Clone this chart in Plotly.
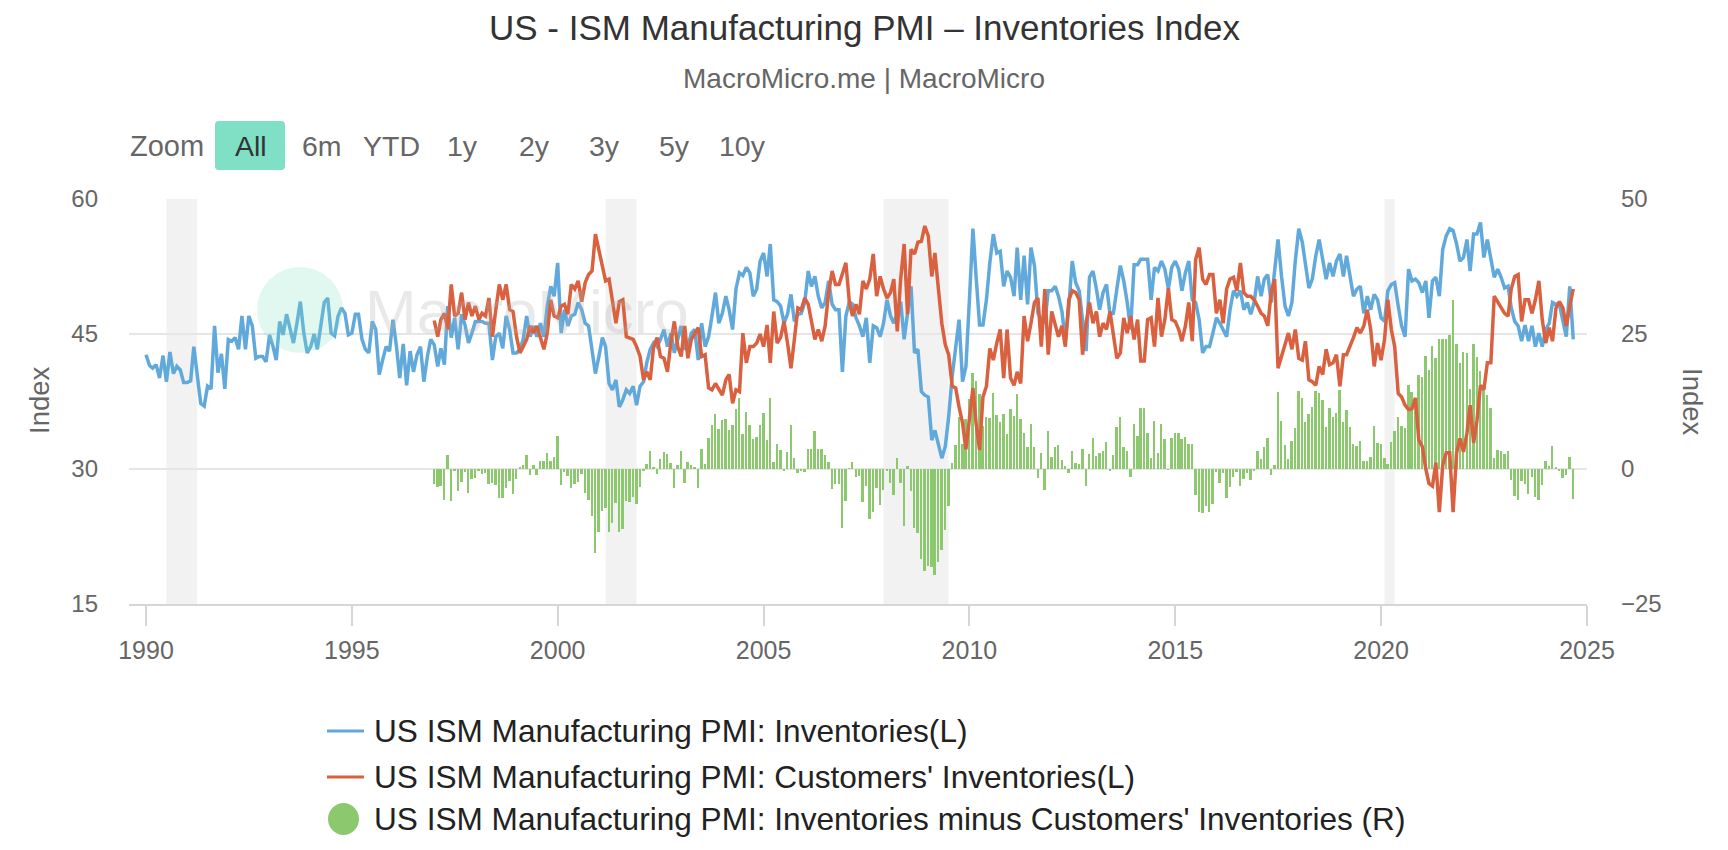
import pandas as pd
import plotly.graph_objects as go

# ---------------- text ----------------
TITLE = "US - ISM Manufacturing PMI – Inventories Index"
SUBTITLE = "MacroMicro.me | MacroMicro"
NAME_INV = "US ISM Manufacturing PMI: Inventories(L)"
NAME_CUST = "US ISM Manufacturing PMI: Customers' Inventories(L)"
NAME_DIFF = "US ISM Manufacturing PMI: Inventories minus Customers' Inventories (R)"
AXIS_TITLE = "Index"
ZOOM_LABEL = "Zoom"
RANGE_BUTTONS = ["All", "6m", "YTD", "1y", "2y", "3y", "5y", "10y"]

# ---------------- data (monthly) ----------------
INV_START = "1990-01-01"
inventories = [
    42.7, 41.5, 41.2, 41.6, 40.1, 42.6, 39.7, 43.0, 40.6, 41.4, 41.0, 39.6,  # 1990
    39.6, 39.8, 43.6, 40.3, 37.3, 37.0, 39.2, 38.9, 45.9, 40.7, 42.8, 38.9,  # 1991
    44.4, 44.2, 44.6, 43.3, 47.0, 43.3, 47.0, 45.9, 42.3, 42.5, 42.5, 41.9,  # 1992
    44.9, 43.6, 42.1, 46.4, 44.9, 47.2, 45.6, 44.0, 46.2, 48.6, 45.1, 42.9,  # 1993
    43.6, 45.0, 43.3, 46.2, 48.5, 49.0, 45.1, 44.8, 47.0, 47.9, 47.3, 44.9,  # 1994
    45.1, 47.2, 47.2, 44.4, 43.3, 42.9, 46.4, 45.5, 40.5, 42.1, 43.6, 43.1,  # 1995
    46.6, 43.6, 40.1, 43.9, 39.3, 43.1, 40.8, 42.7, 43.6, 39.7, 42.5, 44.4,  # 1996
    43.8, 41.4, 43.4, 41.6, 48.1, 44.6, 46.8, 43.3, 47.2, 46.0, 44.0, 45.1,  # 1997
    46.4, 46.4, 46.4, 46.2, 46.2, 42.1, 44.7, 45.1, 43.4, 47.0, 45.5, 42.9,  # 1998
    42.9, 43.3, 44.4, 47.0, 44.7, 45.9, 44.7, 46.2, 44.7, 48.1, 50.3, 49.2,  # 1999
    52.9, 45.1, 47.7, 45.9, 47.0, 47.2, 48.5, 47.7, 46.2, 45.9, 43.3, 40.6,  # 2000
    42.5, 44.6, 43.6, 39.5, 38.8, 39.9, 36.9, 37.7, 38.8, 38.4, 39.2, 37.1,  # 2001
    39.2, 39.7, 41.8, 43.3, 44.0, 43.6, 44.4, 45.5, 43.6, 45.1, 42.9, 44.4,  # 2002
    45.9, 43.3, 43.6, 45.1, 45.5, 42.1, 46.2, 43.6, 44.7, 47.0, 49.6, 46.2,  # 2003
    47.3, 49.2, 47.7, 45.5, 50.0, 51.8, 51.5, 52.4, 51.8, 49.2, 50.0, 53.1,  # 2004
    54.0, 51.4, 55.0, 48.8, 48.6, 48.1, 46.2, 47.2, 49.4, 46.4, 47.2, 47.3,  # 2005
    48.5, 52.0, 50.3, 51.4, 49.2, 47.9, 48.5, 50.9, 48.3, 47.7, 47.7, 40.8,  # 2006
    47.0, 48.6, 48.3, 46.8, 45.9, 44.7, 46.8, 41.8, 45.9, 45.7, 44.7, 46.2,  # 2007
    48.8, 47.0, 46.2, 47.3, 48.6, 44.4, 47.7, 50.3, 42.9, 43.3, 38.6, 38.2,  # 2008
    38.0, 33.2, 34.3, 32.8, 31.2, 32.5, 35.8, 40.3, 43.4, 46.6, 39.7, 41.4,  # 2009
    48.8, 56.7, 51.4, 46.0, 46.0, 48.8, 52.9, 56.1, 54.0, 54.2, 50.3, 52.0,  # 2010
    51.3, 49.2, 54.6, 48.8, 53.7, 48.3, 54.6, 52.6, 47.3, 46.6, 46.2, 49.8,  # 2011
    49.8, 50.3, 49.2, 47.5, 44.2, 48.1, 53.1, 50.7, 49.8, 46.4, 43.1, 51.3,  # 2012
    52.0, 50.0, 47.7, 49.6, 50.5, 47.2, 47.3, 50.0, 52.6, 50.9, 48.5, 45.5,  # 2013
    52.7, 52.7, 53.3, 53.3, 53.3, 48.8, 52.4, 52.0, 53.1, 52.2, 50.0, 52.4,  # 2014
    53.1, 52.2, 49.8, 51.8, 53.1, 48.8, 48.5, 46.6, 42.9, 43.6, 43.6, 45.1,  # 2015
    46.8, 46.2, 45.5, 44.7, 47.7, 49.8, 49.2, 49.8, 47.7, 48.5, 47.2, 48.5,  # 2016
    51.4, 49.2, 51.1, 51.6, 48.5, 51.9, 55.5, 51.4, 48.1, 47.0, 48.5, 53.1,  # 2017
    56.7, 55.2, 52.9, 50.1, 51.1, 53.7, 55.5, 53.3, 51.1, 52.9, 51.4, 53.1,  # 2018
    53.9, 51.4, 53.7, 51.4, 49.2, 50.0, 50.3, 47.3, 49.2, 47.7, 49.4, 48.8,  # 2019
    46.8, 46.4, 49.8, 50.5, 50.7, 48.1, 45.9, 44.7, 52.2, 50.9, 51.1, 50.7,  # 2020
    49.6, 50.9, 46.8, 50.9, 51.3, 49.2, 54.4, 55.9, 56.7, 56.5, 55.0, 53.1,  # 2021
    53.5, 55.5, 52.0, 56.1, 56.1, 57.4, 53.5, 55.5, 53.1, 51.3, 52.2, 51.3,  # 2022
    50.1, 50.3, 47.9, 46.4, 45.9, 44.2, 46.0, 44.2, 45.9, 43.6, 45.1, 43.6,  # 2023
    45.5, 46.2, 48.5, 48.3, 48.3, 46.2, 44.7, 50.3, 44.4,                    # 2024
]

CUST_START = "1997-01-01"
customers_inventories = [
    46.5, 44.7, 46.6, 47.3, 45.5, 50.5, 47.0, 47.3, 49.6, 46.6, 48.5, 47.0,  # 1997
    48.1, 46.6, 47.3, 47.0, 49.0, 44.7, 47.7, 50.5, 48.8, 50.5, 47.7, 47.5,  # 1998
    44.7, 42.9, 43.6, 44.4, 45.9, 45.1, 45.9, 44.7, 43.3, 45.1, 48.8, 47.0,  # 1999
    46.8, 48.1, 48.3, 47.2, 50.5, 50.0, 50.9, 48.6, 50.7, 51.6, 52.0, 56.1,  # 2000
    54.2, 52.4, 50.9, 51.1, 48.8, 46.2, 48.6, 48.8, 44.7, 44.6, 44.4, 43.6,  # 2001
    42.5, 39.9, 40.8, 39.9, 43.6, 44.6, 42.5, 42.3, 40.8, 44.0, 46.4, 43.6,  # 2002
    42.5, 45.9, 42.3, 44.4, 45.1, 45.7, 42.5, 42.7, 39.0, 38.8, 39.5, 38.8,  # 2003
    38.2, 39.9, 40.5, 37.3, 38.8, 38.6, 45.1, 41.8, 43.6, 43.6, 44.0, 45.0,  # 2004
    43.6, 46.0, 41.8, 47.5, 44.0, 44.6, 46.4, 44.0, 41.2, 44.4, 47.9, 47.7,  # 2005
    49.0, 48.3, 46.6, 44.4, 45.5, 44.2, 45.9, 49.6, 52.0, 50.5, 50.5, 51.8,  # 2006
    52.9, 48.5, 47.0, 48.3, 47.2, 50.9, 50.0, 51.1, 53.9, 49.2, 51.4, 50.0,  # 2007
    49.0, 49.6, 51.1, 45.3, 51.1, 55.0, 47.2, 54.4, 53.9, 55.2, 55.3, 57.0,  # 2008
    55.9, 51.4, 54.0, 50.0, 46.2, 43.8, 42.7, 39.2, 39.0, 36.9, 35.1, 32.2,  # 2009
    35.8, 39.0, 35.1, 32.1, 38.0, 39.2, 43.4, 42.1, 44.0, 45.5, 40.1, 45.5,  # 2010
    40.1, 39.3, 40.8, 39.5, 47.0, 44.2, 46.2, 48.5, 49.0, 43.6, 50.0, 42.7,  # 2011
    47.5, 46.2, 44.7, 45.9, 43.6, 48.8, 49.8, 49.6, 48.8, 42.7, 46.2, 48.5,  # 2012
    46.2, 47.5, 44.7, 46.2, 45.5, 47.5, 44.7, 42.3, 42.9, 46.8, 45.1, 47.0,  # 2013
    44.4, 46.6, 42.0, 42.0, 46.6, 46.8, 43.6, 49.0, 44.7, 46.6, 50.1, 46.6,  # 2014
    46.4, 45.5, 44.2, 45.9, 48.5, 44.2, 53.3, 54.6, 51.1, 50.5, 51.6, 51.6,  # 2015
    47.3, 48.8, 46.2, 50.0, 51.1, 51.3, 49.8, 52.9, 49.6, 49.2, 49.2, 48.8,  # 2016
    48.1, 47.3, 47.0, 45.9, 49.6, 51.1, 41.2, 42.5, 43.6, 45.1, 43.3, 45.5,  # 2017
    42.3, 42.1, 44.2, 39.9, 39.7, 39.3, 41.4, 40.5, 43.3, 41.6, 41.8, 42.7,  # 2018
    39.2, 42.7, 42.7, 43.6, 44.6, 45.7, 45.1, 45.9, 47.7, 45.5, 41.4, 44.0,  # 2019
    42.1, 44.4, 48.8, 45.5, 43.6, 38.4, 38.0, 37.1, 36.6, 36.7, 37.9, 33.2,  # 2020
    32.5, 30.0, 28.4, 28.1, 30.7, 25.2, 30.4, 31.8, 31.8, 25.2, 31.8, 33.4,  # 2021
    31.9, 34.0, 37.1, 32.9, 35.4, 39.3, 38.8, 41.8, 41.8, 49.2, 48.6, 47.9,  # 2022
    47.3, 47.0, 50.0, 51.4, 51.6, 46.4, 48.8, 48.8, 47.3, 48.8, 50.9, 46.6,  # 2023
    44.0, 45.7, 44.2, 47.9, 48.6, 47.9, 45.9, 48.1, 50.0,                    # 2024
]

# US recessions (shaded bands)
REC_START = ["1990-07-01", "2001-03-01", "2007-12-01", "2020-02-01"]
REC_END = ["1991-03-31", "2001-11-30", "2009-06-30", "2020-04-30"]

YEAR_TICKS = [1990, 1995, 2000, 2005, 2010, 2015, 2020, 2025]
LEFT_TICKS = [15, 30, 45, 60]
RIGHT_TICKS = [-25, 0, 25, 50]

# ---------------- derived series ----------------
inv_dates = pd.date_range(INV_START, periods=len(inventories), freq="MS")
cust_dates = pd.date_range(CUST_START, periods=len(customers_inventories), freq="MS")
inv_by_date = dict(zip(inv_dates, inventories))
spread = [round(inv_by_date[d] - c, 1) for d, c in zip(cust_dates, customers_inventories)]

# ---------------- style ----------------
FONT = "Liberation Sans, Arial, Helvetica, sans-serif"
BLUE = "#62a9db"
RED = "#d9613f"
GREEN = "#8cc96e"
GRID = "#e6e6e6"
AXIS = "#d6d6d6"
LABEL = "#666666"
DARK = "#333333"

W, H = 1728, 850
L, R, T, B = 129, 1587, 199, 604   # plot area in pixels


def X(px):
    return (px - L) / (R - L)


def Y(py):
    return (B - py) / (B - T)


fig = go.Figure()

fig.add_trace(go.Bar(
    x=cust_dates, y=spread, name=NAME_DIFF, yaxis="y",
    marker=dict(color=GREEN, line=dict(width=0)),
    width=17 * 86400000, showlegend=False,
))
fig.add_trace(go.Scatter(
    x=inv_dates, y=inventories, name=NAME_INV, yaxis="y2", mode="lines",
    line=dict(color=BLUE, width=3.5), showlegend=False,
))
fig.add_trace(go.Scatter(
    x=cust_dates, y=customers_inventories, name=NAME_CUST, yaxis="y2", mode="lines",
    line=dict(color=RED, width=3.5), showlegend=False,
))

shapes = []
for s, e in zip(REC_START, REC_END):
    shapes.append(dict(type="rect", xref="x", yref="paper", x0=s, x1=e, y0=0, y1=1,
                       fillcolor="#f2f2f2", line=dict(width=0), layer="below"))

# watermark circle
shapes.append(dict(type="circle", xref="paper", yref="paper",
                   x0=X(257), x1=X(343), y0=Y(353), y1=Y(267),
                   fillcolor="rgba(120,222,190,0.22)", line=dict(width=0), layer="above"))

# "All" button background (rounded rectangle)
bx0, bx1, by0, by1 = 215, 285, 121, 170
rx, ry = 4 / (R - L), 4 / (B - T)
x0, x1, y0, y1 = X(bx0), X(bx1), Y(by1), Y(by0)
path = (f"M {x0+rx},{y0} L {x1-rx},{y0} Q {x1},{y0} {x1},{y0+ry} "
        f"L {x1},{y1-ry} Q {x1},{y1} {x1-rx},{y1} L {x0+rx},{y1} "
        f"Q {x0},{y1} {x0},{y1-ry} L {x0},{y0+ry} Q {x0},{y0} {x0+rx},{y0} Z")
shapes.append(dict(type="path", xref="paper", yref="paper", path=path,
                   fillcolor="#80e0c5", line=dict(width=0)))

# legend symbols
for color, yy in [(BLUE, 731), (RED, 777)]:
    shapes.append(dict(type="line", xref="paper", yref="paper",
                       x0=X(327), x1=X(364), y0=Y(yy), y1=Y(yy),
                       line=dict(color=color, width=3)))
shapes.append(dict(type="circle", xref="paper", yref="paper",
                   x0=X(328), x1=X(359), y0=Y(835), y1=Y(803),
                   fillcolor=GREEN, line=dict(width=0)))

annotations = []


def ann(text, px, py, size, color, xanchor="center", angle=0):
    annotations.append(dict(text=text, x=X(px), y=Y(py), xref="paper", yref="paper",
                            xanchor=xanchor, yanchor="middle", showarrow=False,
                            textangle=angle, font=dict(size=size, color=color, family=FONT)))


ann(TITLE, 864, 28, 35, DARK)
ann(SUBTITLE, 864, 78, 28, LABEL)
ann(ZOOM_LABEL, 167, 146, 29, LABEL)
for lab, cx in zip(RANGE_BUTTONS, [251, 322, 391, 462, 534, 604, 674, 742]):
    ann(lab, cx, 146, 28.5, DARK if lab == "All" else LABEL)
ann(AXIS_TITLE, 39, 400, 27.5, LABEL, angle=-90)
ann(AXIS_TITLE, 1693, 402, 27.5, LABEL, angle=90)
ann("MacroMicro", 527, 311, 62, "rgba(175,175,175,0.28)")
ann(NAME_INV, 372, 731, 31.6, "#222222", xanchor="left")
ann(NAME_CUST, 372, 777, 31.6, "#222222", xanchor="left")
ann(NAME_DIFF, 372, 819, 31.6, "#222222", xanchor="left")

fig.update_layout(
    template="none",
    width=W, height=H,
    margin=dict(l=L, r=W - R, t=T, b=H - B, pad=0, autoexpand=False),
    paper_bgcolor="white", plot_bgcolor="white",
    font=dict(family=FONT, color=LABEL),
    showlegend=False,
    bargap=0,
    shapes=shapes,
    annotations=annotations,
    xaxis=dict(
        type="date", range=["1989-08-03", "2025-01-01"],
        tickvals=[f"{y}-01-01" for y in YEAR_TICKS], ticktext=[str(y) for y in YEAR_TICKS],
        ticks="outside", ticklen=20, tickwidth=2, tickcolor=AXIS,
        showline=True, linecolor=AXIS, linewidth=2, showgrid=False, zeroline=False,
        tickfont=dict(size=25, color=LABEL, family=FONT), ticklabelstandoff=3,
    ),
    yaxis=dict(
        side="right", range=[-25, 50], tickvals=RIGHT_TICKS,
        showgrid=True, gridcolor=GRID, gridwidth=2, zeroline=False, showline=False,
        ticks="", tickfont=dict(size=24, color=LABEL, family=FONT), ticklabelstandoff=33,
    ),
    yaxis2=dict(
        side="left", overlaying="y", range=[15, 60], tickvals=LEFT_TICKS,
        showgrid=False, zeroline=False, showline=False,
        ticks="", tickfont=dict(size=24, color=LABEL, family=FONT), ticklabelstandoff=30,
    ),
)

fig.write_html("out.html")
